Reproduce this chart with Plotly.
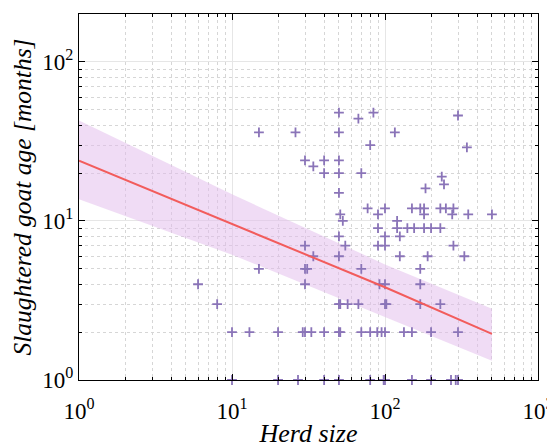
import plotly.graph_objects as go

# herd size vs slaughtered goat age (months)
herd_size = [
    6, 8, 10, 10, 13, 15, 15, 20, 20, 26, 27, 29, 30, 30, 30, 30, 31, 30, 33,
    34, 34, 40, 40, 40, 40, 50, 50, 50, 50, 50, 50, 50, 50, 50, 50, 51, 51, 51,
    53, 55, 57, 67, 67, 70, 70, 70, 77, 80, 80, 80, 84, 89, 90, 90, 90, 92, 95,
    98, 100, 100, 100, 100, 100, 102, 100, 100, 116, 120, 120, 125, 125, 133,
    140, 150, 150, 150, 155, 170, 170, 170, 170, 180, 180, 180, 184, 190, 200,
    200, 200, 230, 230, 230, 235, 243, 250, 270, 275, 280, 280, 290, 300, 300,
    300, 330, 343, 350, 500,
]
goat_age = [
    4, 3, 2, 1, 2, 36, 5, 2, 1, 36, 1, 2, 2, 24, 7, 5, 5, 4, 2,
    22, 6, 24, 20, 2, 1, 48, 36, 24, 20, 15, 8, 6, 3, 2, 1, 11, 3, 2,
    10, 7, 3, 44, 3, 20, 5, 2, 12, 30, 2, 1, 48, 2, 11, 9, 7, 4, 2,
    1, 12, 8, 7, 4, 3, 3, 2, 1, 36, 10, 9, 8, 6, 2,
    9, 12, 2, 1, 9, 12, 5, 4, 3, 12, 11, 9, 16, 6, 9,
    2, 1, 12, 9, 3, 19, 17, 12, 1, 11, 12, 7, 1, 46, 2,
    1, 6, 29, 11, 11,
]

# fitted line and confidence band
fit_x = [1, 10, 100, 500]
fit_y = [23.9, 9.57, 3.83, 1.95]
band_upper = [42.8, 14.7, 5.33, 2.80]
band_lower = [13.7, 6.14, 2.48, 1.32]

decades = [1, 10, 100, 1000]
decade_labels = ["10<sup>0</sup>", "10<sup>1</sup>", "10<sup>2</sup>", "10<sup>3</sup>"]
minor_x = [m * d for d in (1, 10, 100) for m in range(2, 10)]
minor_y = [m * d for d in (1, 10, 100) for m in range(2, 10)]

serif = "Liberation Serif"

fig = go.Figure()

fig.add_trace(go.Scatter(
    x=fit_x + fit_x[::-1],
    y=band_upper + band_lower[::-1],
    fill="toself",
    fillcolor="rgba(226,186,236,0.5)",
    line=dict(width=0),
    mode="lines",
    hoverinfo="skip",
    showlegend=False,
))

fig.add_trace(go.Scatter(
    x=herd_size, y=goat_age,
    mode="markers",
    cliponaxis=False,
    marker=dict(symbol="cross-thin", size=7,
                line=dict(width=1.8, color="#8a74b8")),
    showlegend=False,
))

fig.add_trace(go.Scatter(
    x=fit_x, y=fit_y,
    mode="lines",
    line=dict(color="#f25c5c", width=2),
    showlegend=False,
))

axis_common = dict(
    type="log", automargin=False,
    showline=True, linecolor="black", linewidth=1, mirror="allticks",
    ticks="inside", ticklen=6, tickcolor="black",
    showgrid=True, gridcolor="#e6e6e6", gridwidth=1,
    zeroline=False,
    tickfont=dict(family=serif, size=23, color="black"),
    tickvals=decades, ticktext=decade_labels,
)
minor_common = dict(ticks="inside", ticklen=3, tickcolor="black",
                    showgrid=True, gridcolor="#d6d6d6", griddash="dot", gridwidth=1)

# page body adds 8px, so the figure is sized/margined to compensate
fig.update_layout(
    width=555, height=440,
    paper_bgcolor="white", plot_bgcolor="white",
    margin=dict(l=71, r=25, t=6, b=68),
    xaxis=dict(
        axis_common, range=[0, 3],
        ticklabelstandoff=10,
        minor=dict(minor_common, tickvals=minor_x),
        title=dict(text="<i>Herd size</i>", standoff=8,
                   font=dict(family=serif, size=26, color="black")),
    ),
    yaxis=dict(
        axis_common, range=[0, 2.301],
        minor=dict(minor_common, tickvals=minor_y),
        title=dict(text="<i>Slaughtered goat age [months]</i>", standoff=4,
                   font=dict(family=serif, size=25.5, color="black")),
    ),
)

fig.write_html("out.html")
